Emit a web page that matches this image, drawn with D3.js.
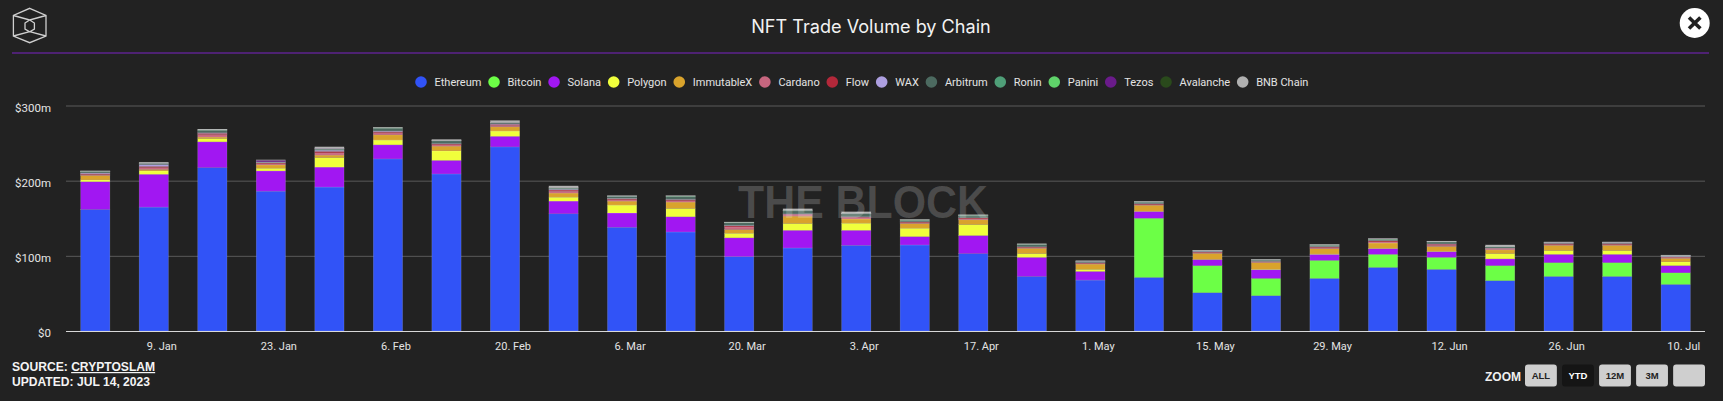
<!DOCTYPE html>
<html lang="en">
<head>
    <meta charset="UTF-8">
    <title>NFT Trade Volume by Chain</title>
    <script src="https://d3js.org/d3.v7.min.js"></script>
    <style>
        html, body { margin: 0; padding: 0; background: #222222; }
        svg { display: block; font-family: Inter, "Noto Sans", sans-serif; }
        .tick text { fill: #e4e4e4; font-family: Roboto, sans-serif; font-size: 11px; }
    </style>
</head>
<body>
    <svg width="1723" height="401"></svg>

    <script>
        // weekly buckets, 2023 (values in $m)
        const weeks = ["2. Jan", "9. Jan", "16. Jan", "23. Jan", "30. Jan", "6. Feb", "13. Feb", "20. Feb", "27. Feb", "6. Mar",
            "13. Mar", "20. Mar", "27. Mar", "3. Apr", "10. Apr", "17. Apr", "24. Apr", "1. May", "8. May", "15. May",
            "22. May", "29. May", "5. Jun", "12. Jun", "19. Jun", "26. Jun", "3. Jul", "10. Jul"];

        const ethereum = [161.7, 164.8, 217.4, 186, 191.5, 229, 209, 245, 156, 138, 131.8, 99, 110.5, 114, 114.5, 103, 72.6, 67.7, 71.3, 51, 47, 70, 84.6, 82, 67, 72.6, 72.6, 62];
        const bitcoin = [0, 0, 0, 0, 0, 0, 0, 0, 0, 0, 0, 0, 0, 0, 0, 0, 0, 0, 78.7, 36, 23, 24, 17.4, 16, 20, 18.4, 18.4, 15.5];
        const solana = [37, 43.7, 34.3, 27, 26.5, 18.7, 18, 14, 16.8, 19, 20.2, 25, 23.5, 20, 11.1, 24, 25.4, 11.6, 9, 8, 11.5, 8, 7.6, 7.6, 9, 11, 11, 9.5];
        const polygon = [2.3, 4.5, 4.3, 3.5, 12.7, 6.3, 12.6, 7, 5.2, 10.5, 11, 6, 9, 9.4, 11.1, 14.6, 5, 2.7, 0.3, 0.3, 0.6, 0.5, 0.5, 0.5, 7, 5, 5, 5];
        const immutableX = [6, 2, 2, 4.5, 3.3, 7, 6.3, 5.7, 5.5, 5.3, 8.5, 5, 9.8, 5.6, 6.3, 6.4, 7, 7, 8, 8, 9, 7, 7, 6.4, 5, 7, 7, 4.7];
        const cardano = [1.2, 2.5, 3.5, 1.5, 3, 3, 2, 2, 2.5, 2, 2, 3.5, 1.5, 1.5, 1.2, 1.2, 1, 0.8, 0.8, 1, 0.6, 1.4, 1.5, 1.5, 1, 1, 1, 1.3];
        const flow = [1.2, 1.5, 1.5, 1.2, 2, 1.2, 1, 1.2, 1.5, 1.2, 1.2, 1.5, 1, 1, 1, 1.3, 0.8, 1, 1.2, 0.8, 0.8, 1, 1.5, 1.5, 1, 1.3, 1.3, 0.6];
        const wax = [0.8, 2.5, 0.8, 0.5, 1.5, 0.8, 0.5, 0.8, 1, 0.5, 0.5, 0.5, 0.6, 0.6, 0.2, 0.2, 0.3, 0.2, 0.2, 0.8, 0.2, 0.5, 0.3, 0.5, 0.3, 0.3, 0.3, 0.8];
        const arbitrum = [2, 1.5, 3.2, 0.6, 1.5, 3.8, 3.6, 1.5, 1.5, 2.6, 3.8, 3.5, 4, 4, 1.6, 2.2, 3, 1.5, 1.8, 0.8, 1.6, 1.6, 1.5, 2.5, 1.7, 0.8, 0.8, 0.8];
        const ronin = [0.3, 0.2, 0.4, 0.1, 0.2, 0.3, 0.2, 0.2, 0.2, 0.3, 0.5, 0.3, 0.5, 0.4, 0.6, 0.8, 0.3, 0.2, 0.3, 0.1, 0.2, 0.3, 0.3, 0.3, 0.2, 0.2, 0.2, 0.1];
        const panini = [0.1, 0.1, 0.2, 0.1, 0.1, 0.2, 0.1, 0.1, 0.1, 0.1, 0.1, 0.2, 0.2, 0.1, 0.2, 0.4, 0.2, 0.1, 0.2, 0.1, 0.1, 0.2, 0.2, 0.2, 0.1, 0.1, 0.1, 0.1];
        const tezos = [0.1, 0.2, 0.1, 2.2, 0.6, 0.1, 0.2, 0.2, 0.2, 0.1, 0.1, 0.1, 0.2, 0.2, 0.1, 0.2, 0.1, 0.2, 0.1, 0.1, 0.1, 0.1, 0.2, 0.2, 0.1, 0.3, 0.3, 0.1];
        const avalanche = [0.1, 0.1, 0.1, 0.2, 0.1, 0.1, 0.1, 0.1, 0.1, 0.1, 0.1, 0.1, 0.1, 0.1, 0.1, 0.1, 0.1, 0.1, 0.1, 0.1, 0.1, 0.1, 0.1, 0.1, 0.1, 0.1, 0.1, 0.1];
        const bnbChain = [0.2, 0.9, 0.4, 0.2, 2, 0.3, 1.2, 2.2, 2.4, 0.3, 0.2, 0.3, 1.7, 1.7, 0.1, 0.2, 0.2, 0.4, 0.3, 0.2, 0.3, 0.3, 0.2, 0.2, 2, 0.4, 0.4, 0.4];

        const chainNames = ["Ethereum", "Bitcoin", "Solana", "Polygon", "ImmutableX", "Cardano", "Flow", "WAX", "Arbitrum", "Ronin", "Panini", "Tezos", "Avalanche", "BNB Chain"];
        const chainValues = [ethereum, bitcoin, solana, polygon, immutableX, cardano, flow, wax, arbitrum, ronin, panini, tezos, avalanche, bnbChain];
        const chainColors = ["#3153f7", "#6cff46", "#a117f2", "#f0ff3c", "#d9a32c", "#c7667f", "#b3283a", "#ad9fe0", "#4c6a60", "#4f9f78", "#5fd36a", "#6a1b8a", "#2a4a1c", "#b0b0b0"];
        const yTicks = [0, 100, 200, 300];
        const zoomButtons = ["ALL", "YTD", "12M", "3M", ""];

        const svg = d3.select("svg");

        // header
        svg.append("text").attr("x", 871).attr("y", 33)
            .attr("text-anchor", "middle").attr("fill", "#f2f2f2")
            .style("font-size", "18.1px").text("NFT Trade Volume by Chain");
        svg.append("line").attr("x1", 12).attr("x2", 1709).attr("y1", 53).attr("y2", 53)
            .attr("stroke", "#7b22c4").attr("stroke-width", 1.2);

        // logo cube
        svg.append("path")
            .attr("d", "M29.7 8.3L46 15.5V36L29.7 42.7L13.4 36V15.5Z M13.4 15.5L29.7 20L46 15.5 M13.4 36L29.7 31.7L46 36 M25 23L29.7 20L34.4 23V29L29.7 31.7L25 29Z")
            .attr("fill", "none").attr("stroke", "#cfcfcf").attr("stroke-width", 1.3);

        // close button
        svg.append("circle").attr("cx", 1694.7).attr("cy", 23).attr("r", 15).attr("fill", "#fff");
        svg.append("path").attr("d", "M1689 17.5L1700.4 28.5M1700.4 17.5L1689 28.5")
            .attr("stroke", "#222").attr("stroke-width", 3.6);

        // scales
        const x = d3.scaleBand().domain(weeks).range([66, 1705]).paddingInner(0.5).paddingOuter(0.25);
        const y = d3.scaleLinear().domain([0, 300]).range([331, 105.5]);

        // gridlines + y labels
        const yAxis = svg.append("g").attr("transform", "translate(66,0)")
            .call(d3.axisLeft(y).tickValues(yTicks).tickSize(-1639).tickPadding(15)
                .tickFormat(d => d === 0 ? "$0" : "$" + d + "m"));
        yAxis.select(".domain").remove();
        yAxis.selectAll(".tick line").attr("stroke", d => d === 0 ? "#d8d8d8" : "#5a5a5a");
        yAxis.selectAll(".tick text").attr("dy", "0.48em").style("font-size", "11.5px");

        // stacked bars
        const rows = weeks.map((week, i) => {
            const row = { week: week };
            chainNames.forEach((name, k) => { row[name] = chainValues[k][i]; });
            return row;
        });
        const stacked = d3.stack().keys(chainNames)(rows);

        svg.append("g").selectAll("g")
            .data(stacked)
            .join("g")
            .attr("fill", (d, k) => chainColors[k])
            .selectAll("rect")
            .data(d => d)
            .join("rect")
            .attr("x", d => x(d.data.week))
            .attr("y", d => y(d[1]))
            .attr("width", x.bandwidth())
            .attr("height", d => y(d[0]) - y(d[1]))
            .attr("stroke", "#ffffff")
            .attr("stroke-opacity", 0.22)
            .attr("stroke-width", 0.6);

        // x labels sit a little right of the bars, as in the original
        const xAxis = svg.append("g").attr("transform", "translate(8,342.5)")
            .call(d3.axisBottom(x).tickValues(weeks.filter((w, i) => i % 2 === 1)).tickSize(0).tickPadding(0));
        xAxis.select(".domain").remove();

        // watermark
        svg.append("text").attr("x", 863).attr("y", 218).attr("text-anchor", "middle")
            .attr("textLength", 250).attr("lengthAdjust", "spacingAndGlyphs")
            .attr("fill", "#ffffff").attr("fill-opacity", 0.19)
            .style("font-family", "Liberation Sans, sans-serif").style("font-weight", 700).style("font-size", "46px")
            .text("THE BLOCK");

        // legend, flowed from measured text widths
        const legend = svg.append("g").attr("transform", "translate(421,82)");
        let legendX = 0;
        chainNames.forEach((name, k) => {
            legend.append("circle").attr("cx", legendX).attr("cy", 0).attr("r", 5.8).attr("fill", chainColors[k]);
            const label = legend.append("text").attr("x", legendX + 13.5).attr("y", 4)
                .attr("fill", "#e4e4e4").style("font-family", "Roboto, sans-serif").style("font-size", "11px").text(name);
            legendX += 13.5 + label.node().getComputedTextLength() + 12.6;
        });

        // source
        const source = svg.append("text").attr("x", 12).attr("y", 371)
            .attr("fill", "#f4f4f4").style("font-family", "Liberation Sans, sans-serif")
            .style("font-weight", 700).style("font-size", "12.1px");
        source.append("tspan").text("SOURCE: ");
        source.append("tspan").style("text-decoration", "underline").text("CRYPTOSLAM");
        svg.append("text").attr("x", 12).attr("y", 385.5)
            .attr("fill", "#f4f4f4").style("font-family", "Liberation Sans, sans-serif")
            .style("font-weight", 700).style("font-size", "12.1px").text("UPDATED: JUL 14, 2023");

        // zoom buttons
        svg.append("text").attr("x", 1485).attr("y", 380.5)
            .attr("fill", "#f0f0f0").style("font-family", "Liberation Sans, sans-serif")
            .style("font-weight", 700).style("font-size", "12px").text("ZOOM");
        const buttonX = d3.scaleBand().domain(zoomButtons).range([1525, 1705]).paddingInner(0.14);
        const buttons = svg.append("g").selectAll("g").data(zoomButtons).join("g")
            .attr("transform", d => "translate(" + buttonX(d) + ",364.5)");
        buttons.append("rect").attr("width", buttonX.bandwidth()).attr("height", 22).attr("rx", 3)
            .attr("fill", d => d === "YTD" ? "#151515" : "#cfcfcf");
        buttons.append("text").attr("x", buttonX.bandwidth() / 2).attr("y", 14.7).attr("text-anchor", "middle")
            .attr("fill", d => d === "YTD" ? "#ffffff" : "#222222")
            .style("font-family", "Liberation Sans, sans-serif").style("font-weight", 700).style("font-size", "9.5px")
            .text(d => d);
    </script>
</body>
</html>
